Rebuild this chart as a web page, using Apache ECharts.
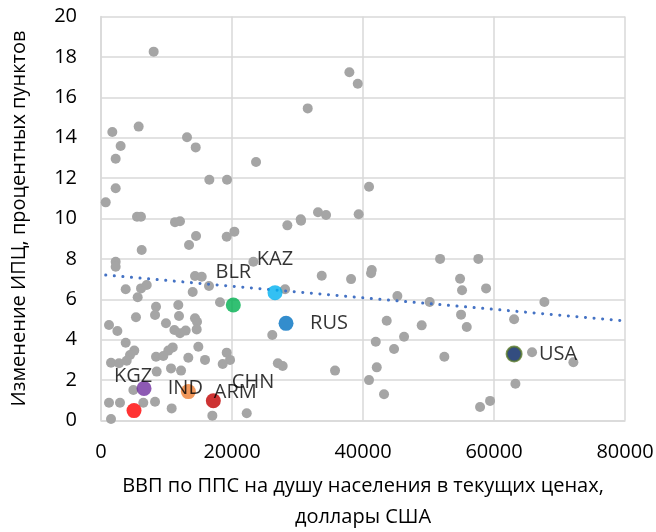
<!DOCTYPE html>
<html>
<head>
<meta charset="utf-8">
<script src="https://cdn.jsdelivr.net/npm/echarts@6/dist/echarts.min.js"></script>
<style>
  html, body { margin: 0; padding: 0; background: #fff; }
  #chart { width: 656px; height: 532px; }
</style>
</head>
<body>
<div id="chart"></div>
<script>
// серые точки: [ВВП по ППС на душу, изменение ИПЦ]
var greyPoints = [
  [8040, 18.26], [1730, 14.28], [5750, 14.55], [13130, 14.02], [3000, 13.59],
  [14460, 13.52], [2240, 12.96], [23670, 12.8], [16540, 11.92], [19240, 11.92],
  [2240, 11.5], [720, 10.8], [5500, 10.09], [6100, 10.09], [11300, 9.82],
  [12060, 9.86], [37920, 17.24], [39200, 16.67], [31560, 15.45], [40920, 11.57],
  [33130, 10.31], [34360, 10.17], [30490, 9.96], [39340, 10.21], [14510, 9.13],
  [13440, 8.69], [19190, 9.1], [20360, 9.35], [6210, 8.44], [2240, 7.86],
  [2240, 7.61], [23260, 7.86], [14350, 7.15], [15380, 7.12], [16490, 6.66],
  [3770, 6.5], [6110, 6.54], [6980, 6.71], [5600, 6.1], [14000, 6.36],
  [18170, 5.85], [8400, 5.63], [11800, 5.72], [5340, 5.11], [8250, 5.22],
  [11910, 5.17], [14350, 5.06], [14660, 4.89], [9920, 4.81], [1220, 4.73],
  [2500, 4.43], [11200, 4.48], [12060, 4.32], [12930, 4.45], [14610, 4.51],
  [3770, 3.85], [26150, 4.23], [5080, 3.46], [4430, 3.24], [10950, 3.62],
  [10280, 3.46], [14860, 3.65], [8400, 3.16], [9510, 3.19], [13330, 3.11],
  [15880, 3.0], [19190, 3.36], [19700, 3.0], [1530, 2.86], [2750, 2.83],
  [18580, 2.8], [3920, 2.96], [10690, 2.58], [12220, 2.47], [8500, 2.42],
  [27000, 2.83], [27740, 2.7], [4940, 1.51], [1220, 0.88], [2900, 0.88],
  [6460, 0.88], [8250, 0.93], [10790, 0.6], [1530, 0.07], [17000, 0.24],
  [22250, 0.36], [28450, 9.66], [30540, 9.89], [33700, 7.17], [38180, 7.0],
  [41340, 7.45], [41230, 7.29], [51770, 8.0], [28100, 6.5], [45250, 6.16],
  [50180, 5.87], [43620, 4.94], [48960, 4.71], [41950, 3.9], [46270, 4.15],
  [44740, 3.54], [52420, 3.16], [35730, 2.47], [42100, 2.63], [40920, 2.0],
  [43210, 1.3], [57610, 8.0], [54820, 7.02], [55120, 6.45], [58790, 6.54],
  [67690, 5.87], [54970, 5.24], [55840, 4.63], [63070, 5.01], [65810, 3.38],
  [72120, 2.88], [63270, 1.82], [57870, 0.67], [59400, 0.97]
];

// выделенные страны
var hlNames = ['CHN', 'KGZ', 'IND', 'ARM', 'BLR', 'KAZ', 'RUS', 'USA'];
var hlX = [5040, 6570, 13330, 17150, 20200, 26570, 28250, 63070];
var hlY = [0.49, 1.59, 1.43, 0.98, 5.72, 6.33, 4.81, 3.29];

// линия тренда
var trendX = [720, 80000];
var trendY = [7.2, 4.93];

var xTicks = [0, 20000, 40000, 60000, 80000];
var yTicks = [0, 2, 4, 6, 8, 10, 12, 14, 16, 18, 20];

var FONT = '"Open Sans", "Noto Sans", sans-serif';

// цвет и подпись каждой точки
var hlStyle = {
  CHN: { color: '#FF0000', offset: [119, -28] },
  KGZ: { color: '#7030A0', offset: [-11, -12] },
  IND: { color: '#ED7D31', offset: [-3, -3] },
  ARM: { color: '#C00000', offset: [22, -8] },
  BLR: { color: '#00B050', offset: [0, -33] },
  KAZ: { color: '#00B0F0', offset: [0, -33] },
  RUS: { color: '#0070C0', offset: [43, 0] },
  USA: { color: '#002060', offset: [44, 0], border: '#5A7A2A' }
};

var hlData = hlNames.map(function (n, i) {
  var s = hlStyle[n];
  return {
    name: n,
    value: [hlX[i], hlY[i]],
    itemStyle: {
      color: s.color,
      borderColor: s.border || s.color,
      borderWidth: s.border ? 2 : 0
    },
    label: {
      show: true,
      position: 'inside',
      offset: s.offset,
      formatter: n,
      color: '#000',
      fontSize: 20,
      fontFamily: FONT
    }
  };
});

var chart = echarts.init(document.getElementById('chart'), null, { renderer: 'canvas' });

var option = {
  animation: false,
  backgroundColor: '#fff',
  textStyle: { fontFamily: FONT },
  grid: {
    left: 101, right: 31, top: 16.5, bottom: 111.5,
    containLabel: false,
    outerBoundsMode: 'none'
  },
  xAxis: {
    type: 'value',
    min: xTicks[0],
    max: xTicks[xTicks.length - 1],
    interval: xTicks[1] - xTicks[0],
    name: 'ВВП по ППС на душу населения в текущих ценах,\nдоллары США',
    nameLocation: 'middle',
    nameGap: 50,
    nameTextStyle: { fontSize: 20, color: '#000', lineHeight: 31, fontFamily: FONT },
    axisLine: { show: true, lineStyle: { color: '#D9D9D9', width: 1.5 } },
    axisTick: { show: false },
    axisLabel: {
      fontSize: 20, color: '#000', margin: 22, fontFamily: FONT,
      formatter: function (v) { return String(v); }
    },
    splitLine: { show: true, lineStyle: { color: '#D9D9D9', width: 1.5 } }
  },
  yAxis: {
    type: 'value',
    min: yTicks[0],
    max: yTicks[yTicks.length - 1],
    interval: yTicks[1] - yTicks[0],
    name: 'Изменение ИПЦ, процентных пунктов',
    nameLocation: 'middle',
    nameRotate: 90,
    nameGap: 72,
    nameTextStyle: { fontSize: 20, color: '#000', fontFamily: FONT },
    axisLine: { show: true, lineStyle: { color: '#D9D9D9', width: 1.5 } },
    axisTick: { show: false },
    axisLabel: { fontSize: 20, color: '#000', margin: 24, fontFamily: FONT },
    splitLine: { show: true, lineStyle: { color: '#D9D9D9', width: 1.5 } }
  },
  series: [
    {
      type: 'scatter',
      data: greyPoints,
      symbolSize: 10,
      itemStyle: { color: '#A5A5A5', opacity: 1 },
      z: 2
    },
    {
      type: 'line',
      data: trendX.map(function (x, i) { return [x, trendY[i]]; }),
      symbol: 'none',
      lineStyle: { color: '#4472C4', width: 3, type: [0.1, 8.5], cap: 'round' },
      z: 3
    },
    {
      type: 'scatter',
      data: hlData,
      symbolSize: 15,
      z: 4
    }
  ]
};

chart.setOption(option);
</script>
</body>
</html>
